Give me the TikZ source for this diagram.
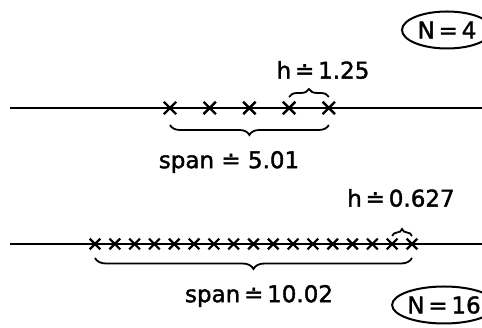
\documentclass[tikz,border=0pt]{standalone}
\usepackage{fontspec}
\setmainfont{DejaVu Sans}[FakeBold=1.6,AutoFakeBold=1.6]
\usetikzlibrary{shapes.misc,shapes.geometric,decorations.pathreplacing}

\begin{document}
\begin{tikzpicture}[
    x=1pt, y=1pt,
    every node/.style={font=\fontsize{23}{26}\selectfont\bfseries},
    axis/.style={line width=2pt},
    xmark/.style={cross out, draw, line width=2.4pt, minimum size=10pt, inner sep=0pt},
    xsmall/.style={xmark, minimum size=8.5pt, line width=2.2pt},
    brc/.style={decorate, decoration={brace, amplitude=#1}, line width=1.8pt},
    tag/.style={ellipse, draw, line width=2pt, minimum width=90pt, minimum height=37pt, inner sep=0pt}
]
\useasboundingbox (0,0) rectangle (482,328);
% N = 4
\coordinate (ta) at (10,220);
\coordinate (tb) at (482,220);
\foreach \i in {0,...,4}
  \node[xmark] (t\i) at ({170+39.7*\i},220) {};
\draw[axis] (ta) -- (t0.center) -- (t4.center) -- (tb);
\draw[brc=8pt] ([yshift=11pt]t3.center) -- ([yshift=11pt]t4.center);
\draw[brc=10pt] ([yshift=-17pt]t4.center) -- ([yshift=-17pt]t0.center);
\node (th) at (323,258) {h\,≐\,1.25};
\node (ts) at (229,166) {span ≐ 5.01};
\node[tag] (tn) at (447,298) {N\,=\,4};
% N = 16
\coordinate (ba) at (10,84);
\coordinate (bb) at (482,84);
\foreach \i in {0,...,16}
  \node[xsmall] (b\i) at ({95+19.81*\i},84) {};
\draw[axis] (ba) -- (b0.center) -- (b16.center) -- (bb);
\draw[brc=7pt] ([yshift=8pt]b15.center) -- ([yshift=8pt]b16.center);
\draw[brc=11pt] ([yshift=-14pt]b16.center) -- ([yshift=-14pt]b0.center);
\node (bh) at (401,130) {h\,≐\,0.627};
\node (bs) at (259,32) {span\,≐\,10.02};
\node[tag] (bn) at (444,23) {N\,=\,16};
\end{tikzpicture}
\end{document}
